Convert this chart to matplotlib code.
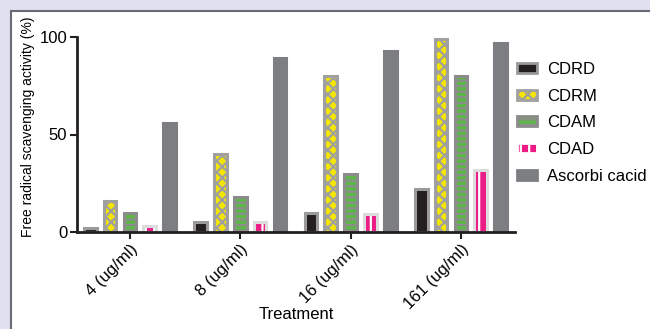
import numpy as np
import matplotlib
matplotlib.use("Agg")
import matplotlib.pyplot as plt
from matplotlib.patches import Rectangle, Patch
from matplotlib.lines import Line2D

plt.rcParams['font.family'] = ['Liberation Sans', 'DejaVu Sans']
plt.rcParams['hatch.linewidth'] = 1.6

# Data
treatments = ['4 (ug/ml)', '8 (ug/ml)', '16 (ug/ml)', '161 (ug/ml)']
series = ['CDRD', 'CDRM', 'CDAM', 'CDAD', 'Ascorbi cacid']
cdrd = [2, 5, 10, 22]
cdrm = [16, 40, 80, 99]
cdam = [10, 18, 30, 80]
cdad = [3, 5, 9, 32]
ascorbic = [56, 89, 93, 97]
values = [cdrd, cdrm, cdam, cdad, ascorbic]

# styles: (face, hatch, hatch colour, edge colour)
styles = [
    ('#231f20', None, None, '#9a9a9a'),
    ('#f4e600', 'xxx', '#a0a0a0', '#a0a0a0'),
    ('#5cb846', '---', '#8c8c8c', '#8c8c8c'),
    ('#ec1c86', '||', 'white', '#dcdcdc'),
    ('#7d7e82', None, None, '#7d7e82'),
]

fig = plt.figure(figsize=(6.5, 3.29), dpi=100)
fig.patch.set_facecolor('#dfe1f0')
# white panel with border line
fig.patches.append(Rectangle((11 / 650, 0), 1, 1 - 11 / 329, transform=fig.transFigure,
                             facecolor='white', edgecolor='none', zorder=-5))
fig.add_artist(Line2D([11 / 650, 11 / 650], [0, 1 - 11 / 329], transform=fig.transFigure,
                      color='#6a6a72', lw=1.5, zorder=-4))
fig.add_artist(Line2D([11 / 650, 1], [1 - 11 / 329, 1 - 11 / 329], transform=fig.transFigure,
                      color='#6a6a72', lw=1.5, zorder=-4))

ax = fig.add_axes([77 / 650, 1 - 232 / 329, (515 - 77) / 650, (232 - 37) / 329])
ax.set_facecolor('none')

x = np.arange(len(treatments))
step = 0.18
width = 0.115
for i, (name, vals) in enumerate(zip(series, values)):
    face, hatch, hcol, ecol = styles[i]
    pos = x + (i - 2) * step
    if hatch:
        ax.bar(pos, vals, width, color=face, hatch=hatch, edgecolor=hcol, linewidth=0)
        ax.bar(pos, vals, width, fill=False, edgecolor=ecol, linewidth=2.2)
    else:
        ax.bar(pos, vals, width, color=face, edgecolor=ecol, linewidth=2.2)

ax.set_xlim(-0.48, 3.49)
ax.set_ylim(0, 100)
ax.set_yticks([0, 50, 100])
ax.set_xticks(x)
ax.set_xticklabels(treatments, rotation=45, ha='right', rotation_mode='anchor', fontsize=12)
ax.tick_params(axis='y', labelsize=12, width=1.5, length=5, color='#231f20', pad=2)
ax.tick_params(axis='x', width=1.5, length=5, color='#231f20', pad=2)
for s in ['top', 'right']:
    ax.spines[s].set_visible(False)
for s in ['left', 'bottom']:
    ax.spines[s].set_linewidth(2)
    ax.spines[s].set_color('#231f20')

ax.set_xlabel('Treatment', fontsize=12)
ax.xaxis.set_label_coords(0.5, -0.385)
ax.set_ylabel('Free radical scavenging activity (%)', fontsize=10)
ax.yaxis.set_label_coords(-0.095, 0.54)

handles = []
for face, hatch, hcol, ecol in styles:
    handles.append(Patch(facecolor=face, edgecolor=ecol if hatch is None else hcol,
                         hatch=hatch, linewidth=2))
fig.legend(handles, series, loc='upper left', bbox_to_anchor=(502 / 650, 1 - 47 / 329),
           frameon=False, fontsize=12, handlelength=1.2, handleheight=0.55,
           labelspacing=0.7, handletextpad=0.6)

fig.savefig('out.png', dpi=100, facecolor=fig.get_facecolor())
